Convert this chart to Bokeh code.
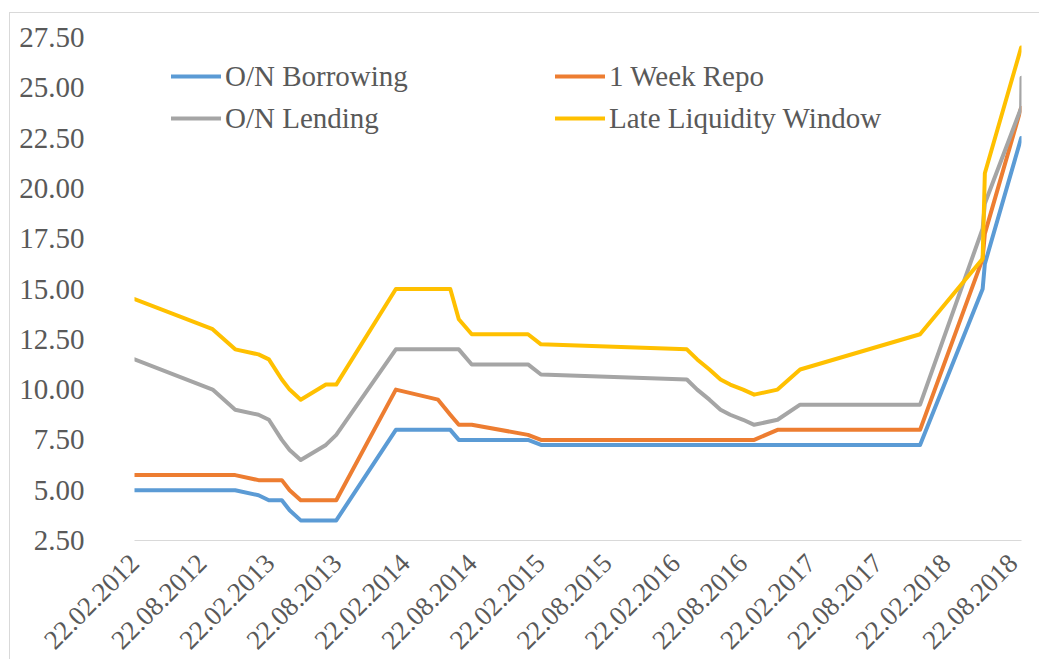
import datetime as dt
from bokeh.plotting import figure
from bokeh.models import (Legend, LegendItem, FixedTicker, NumeralTickFormatter, Range1d)
from bokeh.embed import file_html
from bokeh.resources import INLINE

# ---------------- data ----------------
dates = ["22.02.2012", "20.09.2012", "20.11.2012", "22.01.2013", "19.02.2013",
         "26.03.2013", "16.04.2013", "16.05.2013", "23.07.2013", "20.08.2013",
         "28.01.2014", "22.05.2014", "24.06.2014", "17.07.2014", "21.08.2014",
         "20.01.2015", "24.02.2015", "24.03.2016", "21.04.2016", "24.05.2016",
         "23.06.2016", "19.07.2016", "23.08.2016", "22.09.2016", "24.11.2016",
         "24.01.2017", "14.12.2017", "01.06.2018", "07.06.2018", "13.09.2018",
         "14.09.2018"]
on_borrowing = [5.00, 5.00, 5.00, 4.75, 4.50,
                4.50, 4.00, 3.50, 3.50, 3.50,
                8.00, 8.00, 8.00, 7.50, 7.50,
                7.50, 7.25, 7.25, 7.25, 7.25,
                7.25, 7.25, 7.25, 7.25, 7.25,
                7.25, 7.25, 15.00, 16.25, 22.50,
                22.50]
week_repo = [5.75, 5.75, 5.75, 5.50, 5.50,
             5.50, 5.00, 4.50, 4.50, 4.50,
             10.00, 9.50, 8.75, 8.25, 8.25,
             7.75, 7.50, 7.50, 7.50, 7.50,
             7.50, 7.50, 7.50, 7.50, 8.00,
             8.00, 8.00, 16.50, 17.75, 24.00,
             24.00]
on_lending = [11.50, 10.00, 9.00, 8.75, 8.50,
              7.50, 7.00, 6.50, 7.25, 7.75,
              12.00, 12.00, 12.00, 12.00, 11.25,
              11.25, 10.75, 10.50, 10.00, 9.50,
              9.00, 8.75, 8.50, 8.25, 8.50,
              9.25, 9.25, 18.00, 19.25, 24.00,
              25.50]
late_liquidity = [14.50, 13.00, 12.00, 11.75, 11.50,
                  10.50, 10.00, 9.50, 10.25, 10.25,
                  15.00, 15.00, 15.00, 13.50, 12.75,
                  12.75, 12.25, 12.00, 11.50, 11.00,
                  10.50, 10.25, 10.00, 9.75, 10.00,
                  11.00, 12.75, 16.50, 20.75, 27.00,
                  27.00]
tick_labels = ["22.02.2012", "22.08.2012", "22.02.2013", "22.08.2013", "22.02.2014",
               "22.08.2014", "22.02.2015", "22.08.2015", "22.02.2016", "22.08.2016",
               "22.02.2017", "22.08.2017", "22.02.2018", "22.08.2018"]
y_ticks = [2.5, 5.0, 7.5, 10.0, 12.5, 15.0, 17.5, 20.0, 22.5, 25.0, 27.5]

series_names = ["O/N Borrowing", "1 Week Repo", "O/N Lending", "Late Liquidity Window"]
series_colors = ["#5B9BD5", "#ED7D31", "#A5A5A5", "#FFC000"]


def to_ms(s):
    d = dt.datetime.strptime(s, "%d.%m.%Y").replace(tzinfo=dt.timezone.utc)
    return d.timestamp() * 1000.0


x = [to_ms(d) for d in dates]
tick_ms = [to_ms(t) for t in tick_labels]

FONT = "Liberation Serif"
TXT = "#595959"

p = figure(width=1030, height=647, x_axis_type="datetime",
           output_backend="svg", toolbar_location=None,
           x_range=Range1d(x[0], x[-1]), y_range=Range1d(2.5, 27.5),
           min_border_left=124, min_border_right=19,
           min_border_top=24, min_border_bottom=120)
p.margin = (12, 0, 0, 9)
p.styles = {"border-top": "1px solid #d9d9d9", "border-left": "1px solid #d9d9d9"}
p.outline_line_color = None
p.background_fill_color = "white"
p.border_fill_color = "white"
p.xgrid.visible = False
p.ygrid.visible = False

renderers = []
for vals, col in zip([on_borrowing, week_repo, on_lending, late_liquidity], series_colors):
    r = p.line(x, vals, line_color=col, line_width=4, line_join="round", line_cap="round")
    renderers.append(r)

# y axis
p.yaxis.ticker = FixedTicker(ticks=y_ticks)
p.yaxis.formatter = NumeralTickFormatter(format="0.00")
p.yaxis.axis_line_color = None
p.yaxis.major_tick_line_color = None
p.yaxis.minor_tick_line_color = None
p.yaxis.major_label_standoff = 44
p.yaxis.major_label_text_font = FONT
p.yaxis.major_label_text_font_size = "29px"
p.yaxis.major_label_text_color = TXT

# x axis
p.xaxis.ticker = FixedTicker(ticks=tick_ms)
p.xaxis.major_label_overrides = {t: l for t, l in zip(tick_ms, tick_labels)}
p.xaxis.axis_line_color = "#d9d9d9"
p.xaxis.axis_line_width = 1
p.xaxis.major_tick_line_color = None
p.xaxis.minor_tick_line_color = None
p.xaxis.major_label_orientation = 0.785398
p.xaxis.major_label_standoff = 12
p.xaxis.major_label_text_font = FONT
p.xaxis.major_label_text_font_size = "27px"
p.xaxis.major_label_text_color = TXT


def make_legend(idx, loc):
    lg = Legend(items=[LegendItem(label=series_names[i], renderers=[renderers[i]]) for i in idx],
                location=loc, orientation="vertical",
                padding=0, margin=0, spacing=8,
                glyph_width=50, glyph_height=34, label_height=34,
                label_standoff=4, border_line_color=None,
                background_fill_alpha=0,
                label_text_font=FONT, label_text_font_size="29px",
                label_text_color=TXT)
    return lg


p.add_layout(make_legend([0, 2], (37, 405)), "center")
p.add_layout(make_legend([1, 3], (421, 405)), "center")

open("out.html", "w").write(file_html(p, INLINE))
